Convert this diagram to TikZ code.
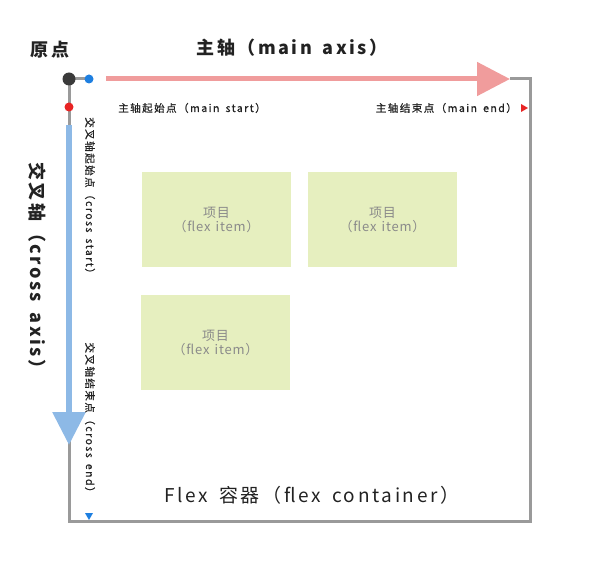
\documentclass[tikz,border=0pt]{standalone}
\usepackage{fontspec}
\setmainfont{Noto Sans CJK SC}
\newfontfamily\labelfont{Noto Sans CJK SC}[LetterSpace=14,WordSpace=1.6]
\newfontfamily\smalllabelfont{Noto Sans CJK SC}[LetterSpace=14,WordSpace=1.6,FakeBold=0.8]
\newfontfamily\itemfont{Noto Sans CJK SC}[LetterSpace=6,WordSpace=1.4]
\usetikzlibrary{arrows.meta}
\definecolor{axispink}{HTML}{F09C9C}
\definecolor{axisblue}{HTML}{8DB9E6}
\definecolor{framegray}{HTML}{9A9A9A}
\definecolor{origindark}{HTML}{3A3A3A}
\definecolor{dotblue}{HTML}{1E7FE0}
\definecolor{dotred}{HTML}{E82424}
\definecolor{itemgreen}{HTML}{E6EFBF}
\definecolor{itemgray}{HTML}{8A8A8A}
\definecolor{textdark}{HTML}{222222}

\begin{document}
\begin{tikzpicture}[
    x=1pt,y=-1pt,
    axislabel/.style = {font=\labelfont\bfseries\fontsize{18}{20}\selectfont,text=textdark,inner sep=0pt},
    endlabel/.style  = {font=\smalllabelfont\fontsize{10.5}{12}\selectfont,text=textdark,inner sep=0pt},
    flexitem/.style  = {fill=itemgreen,minimum width=149pt,minimum height=95pt,inner sep=0pt,
                        align=center,text=itemgray,font=\itemfont\fontsize{13}{14}\selectfont},
    dot/.style       = {circle,inner sep=0pt,minimum size=#1},
    frame/.style     = {framegray,line width=3pt,line join=miter}
    ]
    \useasboundingbox (0,0) rectangle (600,564);
    % Corners of the container
    \coordinate (ne) at (530,79);
    \coordinate (se) at (530,521);
    \coordinate (sw) at (69,521);
    \coordinate (mstart) at (106,79);
    \coordinate (mtip) at (510,79);
    \coordinate (cstart) at (69,125);
    \coordinate (ctip) at (69,445);
    % Container frame
    \draw[frame] (mtip) -- (ne) -- (se) -- (sw) -- (69,79) -- (89,79);
    % Dots
    \node[dot=13pt,fill=origindark] (origin) at (69,79) {};
    \node[dot=9pt,fill=dotblue] (mdot) at (89,79) {};
    \node[dot=9pt,fill=dotred] (cdot) at (69,107) {};
    % Axes
    \draw[axispink,line width=5pt,-{Triangle[length=33pt,width=33pt]}] (mstart) -- (mtip);
    \draw[axisblue,line width=6pt,-{Triangle[length=33pt,width=32pt]}] (cstart) -- (ctip);
    % End markers
    \fill[dotred] (521,104) -- (528,108) -- (521,112) -- cycle;
    \fill[dotblue] (85,513) -- (93,513) -- (89,520) -- cycle;
    % Labels
    \node[axislabel] (originlbl) at (50,50) {原点};
    \node[axislabel] (mainlbl) at (292,48) {主轴（main axis）};
    \node[axislabel,rotate=-90] (crosslbl) at (37,270) {交叉轴（cross axis）};
    \node[endlabel] (mstartlbl) at (192,108) {主轴起始点（main start）};
    \node[endlabel,anchor=east] (mendlbl) at (517,108) {主轴结束点（main end）};
    \node[endlabel,rotate=-90] (cstartlbl) at (90,198) {交叉轴起始点（cross start）};
    \node[endlabel,rotate=-90] (cendlbl) at (90,420) {交叉轴结束点（cross end）};
    % Items
    \node[flexitem] (item1) at (216.5,219.5) {项目\\（flex item）};
    \node[flexitem] (item2) at (382.5,219.5) {项目\\（flex item）};
    \node[flexitem] (item3) at (215.5,342.5) {项目\\（flex item）};
    \node[font=\labelfont\fontsize{19}{21}\selectfont,text=textdark,inner sep=0pt]
      (containerlbl) at (312,495) {Flex 容器（flex container）};
\end{tikzpicture}
\end{document}
